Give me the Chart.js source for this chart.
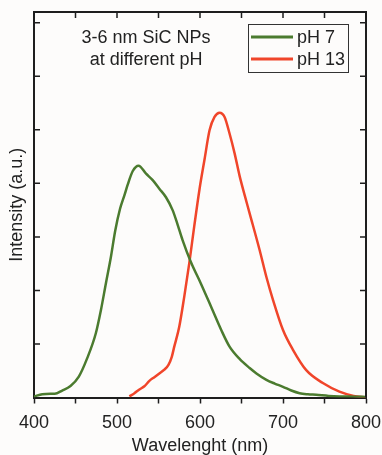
<!DOCTYPE html>
<html>
<head>
<meta charset="utf-8">
<script src="https://cdn.jsdelivr.net/npm/chart.js@4/dist/chart.umd.min.js"></script>
<style>
html,body{margin:0;padding:0;background:#fdfcfb;}
#wrap{width:382px;height:455px;position:relative;}
</style>
</head>
<body>
<div id="wrap"><canvas id="c" width="382" height="455"></canvas></div>
<script>
// ---- data ----
const seriesLabels = ["pH 7", "pH 13"];
const noteLines = ["3-6 nm SiC NPs", "at different pH"];
const xTitle = "Wavelenght (nm)";
const yTitle = "Intensity (a.u.)";
const xTickLabels = [400, 500, 600, 700, 800];
const yTickValues = [1, 2, 3, 4, 5, 6, 7];

const wavelengthPH7 = [400,410,420,425,434,444,454,464,474.5,480.6,486.6,492.7,497.9,503.6,509,513,519,526,535,543,551,559,567,573,579,589,601,613.5,625.6,635.6,647.7,659.8,668,680,690,700,710,720,730,740,755,768,785,800];
const intensityPH7  = [0.02,0.06,0.07,0.07,0.13,0.215,0.39,0.73,1.2,1.63,2.13,2.63,3.12,3.52,3.78,3.98,4.23,4.33,4.18,4.06,3.9,3.74,3.5,3.23,2.94,2.53,2.13,1.69,1.26,0.95,0.72,0.55,0.45,0.33,0.26,0.2,0.13,0.08,0.06,0.05,0.03,0.02,0.015,0.01];

const wavelengthPH13 = [515,521,527,533,539,545,551,557,562,566,569,575,581,587,593,599.5,605.5,611.5,617.5,623.6,629.6,635.6,641.7,647.7,653.8,659.8,671.9,680,688,700,712,728,748,768,785,800];
const intensityPH13  = [0.02,0.08,0.15,0.21,0.31,0.38,0.45,0.52,0.61,0.76,0.95,1.32,1.88,2.5,3.19,3.9,4.45,4.99,5.24,5.32,5.24,4.93,4.56,4.14,3.78,3.44,2.75,2.25,1.82,1.26,0.89,0.51,0.27,0.11,0.03,0.0];

const colors = ["#4b7b2f", "#f0452a"];
const FONT = "'Liberation Sans', Arial, sans-serif";
const AXIS = "#1e1e1e";
const FS = 18;

function pts(xs, ys){ return xs.map((x,i)=>({x:x, y:ys[i]})); }

const frameAndDecor = {
  id: 'frameAndDecor',
  afterDatasetsDraw(chart){
    const ctx = chart.ctx, a = chart.chartArea;
    const xs = chart.scales.x, ys = chart.scales.y;
    ctx.save();
    ctx.strokeStyle = AXIS;
    ctx.lineWidth = 2;
    // top & right frame
    ctx.beginPath();
    ctx.moveTo(a.left, a.top); ctx.lineTo(a.right, a.top); ctx.lineTo(a.right, a.bottom);
    ctx.stroke();
    // inward ticks
    ctx.lineWidth = 1.5;
    ctx.beginPath();
    xs.ticks.forEach(t=>{
      const px = xs.getPixelForValue(t.value);
      ctx.moveTo(px, a.top); ctx.lineTo(px, a.top+6);
    });
    yTickValues.forEach(v=>{
      const py = ys.getPixelForValue(v);
      ctx.moveTo(a.left, py); ctx.lineTo(a.left+6, py);
      ctx.moveTo(a.right, py); ctx.lineTo(a.right-6, py);
    });
    ctx.stroke();

    // note text
    ctx.fillStyle = "#222";
    ctx.font = FS + "px " + FONT;
    ctx.textAlign = "center";
    ctx.textBaseline = "middle";
    const cx = xs.getPixelForValue(535);
    noteLines.forEach((s,i)=>{ ctx.fillText(s, cx, a.top + 26 + i*22); });

    // legend
    const bx = a.left + 214, by = a.top + 12, bw = 100, bh = 48;
    ctx.fillStyle = "#fdfcfb";
    ctx.fillRect(bx, by, bw, bh);
    ctx.strokeStyle = "#333";
    ctx.lineWidth = 1;
    ctx.strokeRect(bx+0.5, by+0.5, bw, bh);
    ctx.textAlign = "left";
    chart.data.datasets.forEach((d,i)=>{
      const ly = by + 13 + i*22;
      ctx.strokeStyle = d.borderColor;
      ctx.lineWidth = 3;
      ctx.beginPath(); ctx.moveTo(bx+3, ly); ctx.lineTo(bx+45, ly); ctx.stroke();
      ctx.fillStyle = "#222";
      ctx.fillText(d.label, bx+49, ly+1);
    });
    ctx.restore();
  }
};

new Chart(document.getElementById('c'), {
  type: 'line',
  data: {
    datasets: [
      { label: seriesLabels[0], data: pts(wavelengthPH7, intensityPH7), borderColor: colors[0], borderWidth: 2.5, pointRadius: 0, cubicInterpolationMode: 'monotone', fill: false },
      { label: seriesLabels[1], data: pts(wavelengthPH13, intensityPH13), borderColor: colors[1], borderWidth: 2.5, pointRadius: 0, cubicInterpolationMode: 'monotone', fill: false }
    ]
  },
  options: {
    responsive: false,
    animation: false,
    events: [],
    layout: { padding: { left: 0, right: 16, top: 12, bottom: 0 } },
    plugins: { legend: { display: false }, tooltip: { enabled: false } },
    scales: {
      x: {
        type: 'linear', min: 400, max: 800,
        afterFit(s){ s.height = 57.5; s.paddingLeft = 0; s.paddingRight = 0; },
        ticks: {
          stepSize: 50, autoSkip: false, maxRotation: 0, padding: 9,
          color: "#222", font: { family: FONT, size: FS },
          callback: v => xTickLabels.includes(v) ? String(v) : ''
        },
        grid: { drawOnChartArea: false, drawTicks: true, tickLength: 6, tickWidth: 1.5, tickColor: AXIS },
        border: { display: true, color: AXIS, width: 2 },
        title: { display: true, text: xTitle, color: "#222", font: { family: FONT, size: FS }, padding: { top: 0, bottom: -2 } }
      },
      y: {
        type: 'linear', min: 0, max: 7.2,
        afterFit(s){ s.width = 34; },
        ticks: { display: false, stepSize: 1 },
        grid: { drawOnChartArea: false, drawTicks: false },
        border: { display: true, color: AXIS, width: 2 },
        title: { display: true, text: yTitle, color: "#222", font: { family: FONT, size: FS }, padding: { top: 6, bottom: 0 } }
      }
    }
  },
  plugins: [frameAndDecor]
});
</script>
</body>
</html>
